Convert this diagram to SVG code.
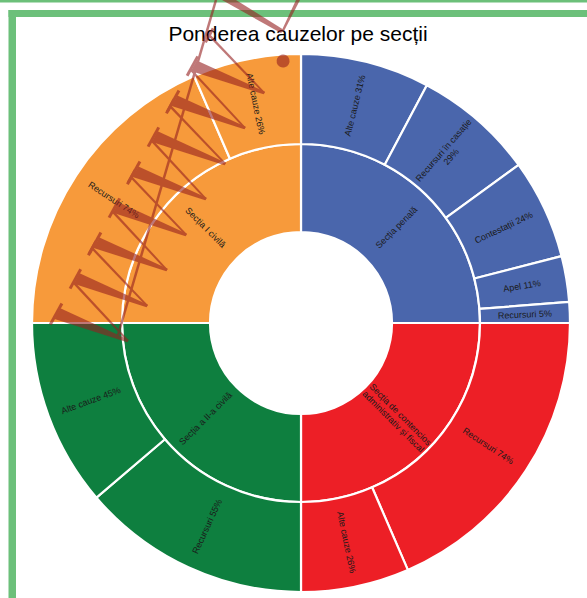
<svg xmlns="http://www.w3.org/2000/svg" width="587" height="598" viewBox="0 0 587 598">
<style>
.seg{stroke:#fff;stroke-width:2.2;stroke-linejoin:round}
.blue{fill:#4a66ac}.orange{fill:#f79a3b}.green{fill:#0e7f3f}.red{fill:#ed1f26}
.lbl{font-family:"Liberation Sans",Arial,sans-serif;font-size:9px;fill:#1a1a1a;text-anchor:middle}
.title{font-family:"Liberation Sans",Arial,sans-serif;font-size:21px;fill:#000;text-anchor:middle}
.frame{fill:#6cc07a}
.wmg{opacity:0.6}
.wmf{fill:#962020}
.wml{stroke:#962020;fill:none;stroke-width:2.5}
</style>
<defs>
<g id="wglyph" class="wmf">
<polygon points="-1,-75 11,-75 16.5,0 13.5,0"/>
<polygon points="14,0 16,0 41,-75 38.5,-75"/>
<polygon points="39,-75 51,-75 56.5,0 53.5,0"/>
<polygon points="54,0 56,0 80,-75 77.5,-75"/>
<rect x="-8" y="-77.5" width="24" height="3"/>
<rect x="33" y="-77.5" width="22" height="3"/>
<rect x="71" y="-77.5" width="16" height="3"/>
</g>
</defs>
<rect width="587" height="598" fill="#fff"/>
<g id="frame">
<rect class="frame" x="0" y="0" width="587" height="2.5"/>
<rect class="frame" x="8.5" y="10" width="578.5" height="7"/>
<rect class="frame" x="8.5" y="10" width="7.5" height="588"/>
</g>
<text class="title" x="298" y="41">Ponderea cauzelor pe secții</text>
<g id="connectors"></g>
<g id="inner-ring">
<g id="n-sectia-penala"><path class="seg blue" d="M301,144 A179,179 0 0 1 480,323 L392,323 A91,91 0 0 0 301,232 Z"/>
<text class="lbl" transform="translate(396.5,227.5) rotate(-45)" dy="3">Secția penală</text></g>
<g id="n-sectia-contencios"><path class="seg red" d="M480,323 A179,179 0 0 1 301,502 L301,414 A91,91 0 0 0 392,323 Z"/>
<text class="lbl" transform="translate(396.5,418.5) rotate(45)"><tspan x="0" dy="-2.5">Secția de contencios</tspan><tspan x="0" dy="10">administrativ și fiscal</tspan></text></g>
<g id="n-sectia-ii-civila"><path class="seg green" d="M301,502 A179,179 0 0 1 122,323 L210,323 A91,91 0 0 0 301,414 Z"/>
<text class="lbl" transform="translate(205.5,418.5) rotate(-45)" dy="3">Secția a II-a civilă</text></g>
<g id="n-sectia-i-civila"><path class="seg orange" d="M122,323 A179,179 0 0 1 301,144 L301,232 A91,91 0 0 0 210,323 Z"/>
<text class="lbl" transform="translate(205.5,227.5) rotate(45)" dy="3">Secția I civilă</text></g>
</g>
<g id="outer-ring">
<g id="n-penala-alte"><path class="seg blue" d="M301,54 A269,269 0 0 1 426.87,85.26 L384.75,164.8 A179,179 0 0 0 301,144 Z"/>
<text class="lbl" transform="translate(355,105.6) rotate(-76.05)" dy="3">Alte cauze 31%</text></g>
<g id="n-penala-casatie"><path class="seg blue" d="M426.87,85.26 A269,269 0 0 1 518.62,164.88 L445.81,217.78 A179,179 0 0 0 384.75,164.8 Z"/>
<text class="lbl" transform="translate(447.8,153.8) rotate(-49.05)"><tspan x="0" dy="-2.5">Recursuri în casație</tspan><tspan x="0" dy="10">29%</tspan></text></g>
<g id="n-penala-contestatii"><path class="seg blue" d="M518.62,164.88 A269,269 0 0 1 561.55,256.1 L474.38,278.48 A179,179 0 0 0 445.81,217.78 Z"/>
<text class="lbl" transform="translate(503.7,227.6) rotate(-25.2)" dy="3">Contestații 24%</text></g>
<g id="n-penala-apel"><path class="seg blue" d="M561.55,256.1 A269,269 0 0 1 569.17,301.88 L479.45,308.95 A179,179 0 0 0 474.38,278.48 Z"/>
<text class="lbl" transform="translate(522,286) rotate(-9.45)" dy="3">Apel 11%</text></g>
<g id="n-penala-recursuri"><path class="seg blue" d="M569.17,301.88 A269,269 0 0 1 570,323 L480,323 A179,179 0 0 0 479.45,308.95 Z"/>
<text class="lbl" transform="translate(524.8,314.6) rotate(-2.25)" dy="3">Recursuri 5%</text></g>
<g id="n-contencios-recursuri"><path class="seg red" d="M570,323 A269,269 0 0 1 407.82,569.89 L372.08,487.29 A179,179 0 0 0 480,323 Z"/>
<text class="lbl" transform="translate(488.2,446) rotate(33.3)" dy="3">Recursuri 74%</text></g>
<g id="n-contencios-alte"><path class="seg red" d="M407.82,569.89 A269,269 0 0 1 301,592 L301,502 A179,179 0 0 0 372.08,487.29 Z"/>
<text class="lbl" transform="translate(346.4,542.3) rotate(78.3)" dy="3">Alte cauze 26%</text></g>
<g id="n-civila2-recursuri"><path class="seg green" d="M301,592 A269,269 0 0 1 96.45,497.69 L164.89,439.24 A179,179 0 0 0 301,502 Z"/>
<text class="lbl" transform="translate(207.2,526.4) rotate(-65.25)" dy="3">Recursuri 55%</text></g>
<g id="n-civila2-alte"><path class="seg green" d="M96.45,497.69 A269,269 0 0 1 32,323 L122,323 A179,179 0 0 0 164.89,439.24 Z"/>
<text class="lbl" transform="translate(90.8,400.5) rotate(-20.25)" dy="3">Alte cauze 45%</text></g>
<g id="n-civila1-recursuri"><path class="seg orange" d="M32,323 A269,269 0 0 1 194.18,76.11 L229.92,158.71 A179,179 0 0 0 122,323 Z"/>
<text class="lbl" transform="translate(113.8,200) rotate(33.3)" dy="3">Recursuri 74%</text></g>
<g id="n-civila1-alte"><path class="seg orange" d="M194.18,76.11 A269,269 0 0 1 301,54 L301,144 A179,179 0 0 0 229.92,158.71 Z"/>
<text class="lbl" transform="translate(255.6,103.7) rotate(78.3)" dy="3">Alte cauze 26%</text></g>
</g>
<g id="watermark" class="wmg">
<g transform="translate(128,341) rotate(-61.2)">
<use href="#wglyph" x="-15" y="0"/>
<use href="#wglyph" x="66" y="0"/>
<use href="#wglyph" x="147" y="0"/>
<use href="#wglyph" x="228" y="0"/>
<circle class="wmf" cx="320" cy="1" r="6.5"/>
</g>
<line class="wml" x1="216" y1="0" x2="118" y2="335" stroke-width="2"/>
<polygon class="wmf" points="222,0 236,0 284,30 281,33"/>
<polygon class="wmf" points="296,0 300,0 284,31 282,30"/>
</g>
</svg>
